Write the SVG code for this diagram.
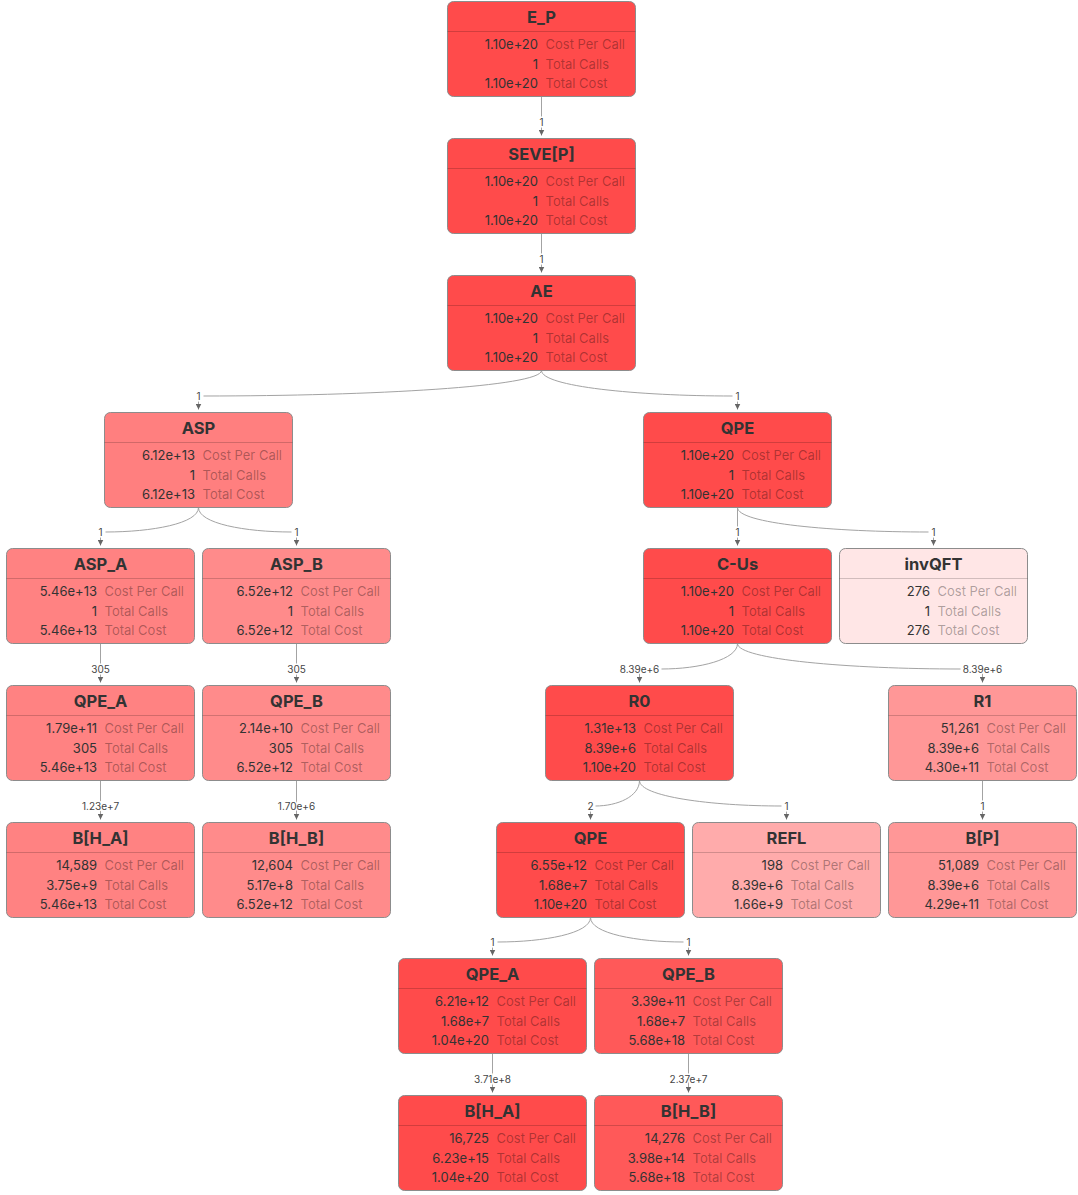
<svg xmlns="http://www.w3.org/2000/svg" width="1078" height="1195" viewBox="0 0 1078 1195">
  <style>
    .node rect{stroke:#8c8c8c;stroke-width:1}
    .node line{stroke:#000;stroke-opacity:.18;stroke-width:1}
    .title{font-family:Inter,"Noto Sans",sans-serif;font-size:16.5px;font-weight:700;fill:#333;text-anchor:middle}
    .v{font-family:Inter,"Noto Sans",sans-serif;font-size:13px;fill:#333;text-anchor:end}
    .k{font-family:Inter,"Noto Sans",sans-serif;font-size:13px;fill:#000;fill-opacity:.32}
    .h0 rect{fill:#ff4b4b}
    .h1 rect{fill:#ff5959}
    .h2 rect{fill:#ff7f7f}
    .h3 rect{fill:#ff8282}
    .h4 rect{fill:#ff8b8b}
    .h5 rect{fill:#ff9797}
    .h6 rect{fill:#ffabab}
    .h7 rect{fill:#ffe6e6}
    .edge{fill:none;stroke:#a3a3a3;stroke-width:1}
    .tip{fill:none;stroke:#a3a3a3;stroke-width:1;marker-end:url(#arrow)}
    .labels{opacity:.99}
    .lbl{font-family:Inter,"Noto Sans",sans-serif;font-size:10px;fill:#444;text-anchor:middle;stroke:#fff;stroke-width:3;paint-order:stroke}
  </style>
  <defs>
    <marker id="arrow" viewBox="0 0 6 6" refX="6" refY="3" markerWidth="6" markerHeight="6" markerUnits="userSpaceOnUse" orient="auto">
      <path d="M0,0 L6,3 L0,6 z" fill="#666"/>
    </marker>
  </defs>

  <!-- connectors -->
  <g id="edges">
    <path class="tip" d="M541.5,96.5 V135.5"/>
    <path class="tip" d="M541.5,233.5 V272.5"/>
    <path class="edge" d="M541.5,370.5 C541.5,386.5 372.5,396 203.5,396"/>
    <path class="tip" d="M198.5,396 V409.5"/>
    <path class="edge" d="M541.5,370.5 C541.5,386.5 637,396 732.5,396"/>
    <path class="tip" d="M737.5,396 V409.5"/>
    <path class="edge" d="M198.5,507.5 C198.5,523.5 152,532 105.5,532"/>
    <path class="tip" d="M100.5,532 V545.5"/>
    <path class="edge" d="M198.5,507.5 C198.5,523.5 245,532 291.5,532"/>
    <path class="tip" d="M296.5,532 V545.5"/>
    <path class="tip" d="M737.5,507.5 V545.5"/>
    <path class="edge" d="M737.5,507.5 C737.5,523.5 833,532 928.5,532"/>
    <path class="tip" d="M933.5,532 V545.5"/>
    <path class="tip" d="M100.5,643.5 V682.5"/>
    <path class="tip" d="M296.5,643.5 V682.5"/>
    <path class="edge" d="M737.5,643.5 C737.5,659.5 699.5,669 661.5,669"/>
    <path class="tip" d="M639.5,669 V682.5"/>
    <path class="edge" d="M737.5,643.5 C737.5,659.5 849,669 960.5,669"/>
    <path class="tip" d="M982.5,669 V682.5"/>
    <path class="tip" d="M100.5,780.5 V819.5"/>
    <path class="tip" d="M296.5,780.5 V819.5"/>
    <path class="edge" d="M639.5,780.5 C639.5,796.5 617.5,806 595.5,806"/>
    <path class="tip" d="M590.5,806 V819.5"/>
    <path class="edge" d="M639.5,780.5 C639.5,796.5 710.5,806 781.5,806"/>
    <path class="tip" d="M786.5,806 V819.5"/>
    <path class="tip" d="M982.5,780.5 V819.5"/>
    <path class="edge" d="M590.5,917.5 C590.5,933.5 544,942 497.5,942"/>
    <path class="tip" d="M492.5,942 V955.5"/>
    <path class="edge" d="M590.5,917.5 C590.5,933.5 637,942 683.5,942"/>
    <path class="tip" d="M688.5,942 V955.5"/>
    <path class="tip" d="M492.5,1053.5 V1092.5"/>
    <path class="tip" d="M688.5,1053.5 V1092.5"/>

    <g class="labels">
      <text class="lbl" x="541.5" y="126">1</text>
      <text class="lbl" x="541.5" y="263">1</text>
      <text class="lbl" x="198.5" y="400">1</text>
      <text class="lbl" x="737.5" y="400">1</text>
      <text class="lbl" x="100.5" y="536">1</text>
      <text class="lbl" x="296.5" y="536">1</text>
      <text class="lbl" x="737.5" y="536">1</text>
      <text class="lbl" x="933.5" y="536">1</text>
      <text class="lbl" x="100.5" y="673">305</text>
      <text class="lbl" x="296.5" y="673">305</text>
      <text class="lbl" x="639.5" y="673">8.39e+6</text>
      <text class="lbl" x="982.5" y="673">8.39e+6</text>
      <text class="lbl" x="100.5" y="810">1.23e+7</text>
      <text class="lbl" x="296.5" y="810">1.70e+6</text>
      <text class="lbl" x="590.5" y="810">2</text>
      <text class="lbl" x="786.5" y="810">1</text>
      <text class="lbl" x="982.5" y="810">1</text>
      <text class="lbl" x="492.5" y="946">1</text>
      <text class="lbl" x="688.5" y="946">1</text>
      <text class="lbl" x="492.5" y="1083">3.71e+8</text>
      <text class="lbl" x="688.5" y="1083">2.37e+7</text>
    </g>
  </g>

  <!-- nodes: box 188x95, title band, three metric rows -->
  <g id="n-ep" class="node h0" transform="translate(447.5,1.5)">
    <rect width="188" height="95" rx="6"/><line x1="0" y1="30" x2="188" y2="30"/>
    <text class="title" x="94" y="21.5">E_P</text>
    <text class="v" x="90.5" y="47">1.10e+20</text><text class="k" x="98" y="47">Cost Per Call</text>
    <text class="v" x="90.5" y="67">1</text><text class="k" x="98" y="67">Total Calls</text>
    <text class="v" x="90.5" y="86.5">1.10e+20</text><text class="k" x="98" y="86.5">Total Cost</text>
  </g>
  <g id="n-seve" class="node h0" transform="translate(447.5,138.5)">
    <rect width="188" height="95" rx="6"/><line x1="0" y1="30" x2="188" y2="30"/>
    <text class="title" x="94" y="21.5">SEVE[P]</text>
    <text class="v" x="90.5" y="47">1.10e+20</text><text class="k" x="98" y="47">Cost Per Call</text>
    <text class="v" x="90.5" y="67">1</text><text class="k" x="98" y="67">Total Calls</text>
    <text class="v" x="90.5" y="86.5">1.10e+20</text><text class="k" x="98" y="86.5">Total Cost</text>
  </g>
  <g id="n-ae" class="node h0" transform="translate(447.5,275.5)">
    <rect width="188" height="95" rx="6"/><line x1="0" y1="30" x2="188" y2="30"/>
    <text class="title" x="94" y="21.5">AE</text>
    <text class="v" x="90.5" y="47">1.10e+20</text><text class="k" x="98" y="47">Cost Per Call</text>
    <text class="v" x="90.5" y="67">1</text><text class="k" x="98" y="67">Total Calls</text>
    <text class="v" x="90.5" y="86.5">1.10e+20</text><text class="k" x="98" y="86.5">Total Cost</text>
  </g>
  <g id="n-asp" class="node h2" transform="translate(104.5,412.5)">
    <rect width="188" height="95" rx="6"/><line x1="0" y1="30" x2="188" y2="30"/>
    <text class="title" x="94" y="21.5">ASP</text>
    <text class="v" x="90.5" y="47">6.12e+13</text><text class="k" x="98" y="47">Cost Per Call</text>
    <text class="v" x="90.5" y="67">1</text><text class="k" x="98" y="67">Total Calls</text>
    <text class="v" x="90.5" y="86.5">6.12e+13</text><text class="k" x="98" y="86.5">Total Cost</text>
  </g>
  <g id="n-qpe" class="node h0" transform="translate(643.5,412.5)">
    <rect width="188" height="95" rx="6"/><line x1="0" y1="30" x2="188" y2="30"/>
    <text class="title" x="94" y="21.5">QPE</text>
    <text class="v" x="90.5" y="47">1.10e+20</text><text class="k" x="98" y="47">Cost Per Call</text>
    <text class="v" x="90.5" y="67">1</text><text class="k" x="98" y="67">Total Calls</text>
    <text class="v" x="90.5" y="86.5">1.10e+20</text><text class="k" x="98" y="86.5">Total Cost</text>
  </g>
  <g id="n-asp-a" class="node h3" transform="translate(6.5,548.5)">
    <rect width="188" height="95" rx="6"/><line x1="0" y1="30" x2="188" y2="30"/>
    <text class="title" x="94" y="21.5">ASP_A</text>
    <text class="v" x="90.5" y="47">5.46e+13</text><text class="k" x="98" y="47">Cost Per Call</text>
    <text class="v" x="90.5" y="67">1</text><text class="k" x="98" y="67">Total Calls</text>
    <text class="v" x="90.5" y="86.5">5.46e+13</text><text class="k" x="98" y="86.5">Total Cost</text>
  </g>
  <g id="n-asp-b" class="node h4" transform="translate(202.5,548.5)">
    <rect width="188" height="95" rx="6"/><line x1="0" y1="30" x2="188" y2="30"/>
    <text class="title" x="94" y="21.5">ASP_B</text>
    <text class="v" x="90.5" y="47">6.52e+12</text><text class="k" x="98" y="47">Cost Per Call</text>
    <text class="v" x="90.5" y="67">1</text><text class="k" x="98" y="67">Total Calls</text>
    <text class="v" x="90.5" y="86.5">6.52e+12</text><text class="k" x="98" y="86.5">Total Cost</text>
  </g>
  <g id="n-cus" class="node h0" transform="translate(643.5,548.5)">
    <rect width="188" height="95" rx="6"/><line x1="0" y1="30" x2="188" y2="30"/>
    <text class="title" x="94" y="21.5">C-Us</text>
    <text class="v" x="90.5" y="47">1.10e+20</text><text class="k" x="98" y="47">Cost Per Call</text>
    <text class="v" x="90.5" y="67">1</text><text class="k" x="98" y="67">Total Calls</text>
    <text class="v" x="90.5" y="86.5">1.10e+20</text><text class="k" x="98" y="86.5">Total Cost</text>
  </g>
  <g id="n-invqft" class="node h7" transform="translate(839.5,548.5)">
    <rect width="188" height="95" rx="6"/><line x1="0" y1="30" x2="188" y2="30"/>
    <text class="title" x="94" y="21.5">invQFT</text>
    <text class="v" x="90.5" y="47">276</text><text class="k" x="98" y="47">Cost Per Call</text>
    <text class="v" x="90.5" y="67">1</text><text class="k" x="98" y="67">Total Calls</text>
    <text class="v" x="90.5" y="86.5">276</text><text class="k" x="98" y="86.5">Total Cost</text>
  </g>
  <g id="n-qpe-a1" class="node h3" transform="translate(6.5,685.5)">
    <rect width="188" height="95" rx="6"/><line x1="0" y1="30" x2="188" y2="30"/>
    <text class="title" x="94" y="21.5">QPE_A</text>
    <text class="v" x="90.5" y="47">1.79e+11</text><text class="k" x="98" y="47">Cost Per Call</text>
    <text class="v" x="90.5" y="67">305</text><text class="k" x="98" y="67">Total Calls</text>
    <text class="v" x="90.5" y="86.5">5.46e+13</text><text class="k" x="98" y="86.5">Total Cost</text>
  </g>
  <g id="n-qpe-b1" class="node h4" transform="translate(202.5,685.5)">
    <rect width="188" height="95" rx="6"/><line x1="0" y1="30" x2="188" y2="30"/>
    <text class="title" x="94" y="21.5">QPE_B</text>
    <text class="v" x="90.5" y="47">2.14e+10</text><text class="k" x="98" y="47">Cost Per Call</text>
    <text class="v" x="90.5" y="67">305</text><text class="k" x="98" y="67">Total Calls</text>
    <text class="v" x="90.5" y="86.5">6.52e+12</text><text class="k" x="98" y="86.5">Total Cost</text>
  </g>
  <g id="n-r0" class="node h0" transform="translate(545.5,685.5)">
    <rect width="188" height="95" rx="6"/><line x1="0" y1="30" x2="188" y2="30"/>
    <text class="title" x="94" y="21.5">R0</text>
    <text class="v" x="90.5" y="47">1.31e+13</text><text class="k" x="98" y="47">Cost Per Call</text>
    <text class="v" x="90.5" y="67">8.39e+6</text><text class="k" x="98" y="67">Total Calls</text>
    <text class="v" x="90.5" y="86.5">1.10e+20</text><text class="k" x="98" y="86.5">Total Cost</text>
  </g>
  <g id="n-r1" class="node h5" transform="translate(888.5,685.5)">
    <rect width="188" height="95" rx="6"/><line x1="0" y1="30" x2="188" y2="30"/>
    <text class="title" x="94" y="21.5">R1</text>
    <text class="v" x="90.5" y="47">51,261</text><text class="k" x="98" y="47">Cost Per Call</text>
    <text class="v" x="90.5" y="67">8.39e+6</text><text class="k" x="98" y="67">Total Calls</text>
    <text class="v" x="90.5" y="86.5">4.30e+11</text><text class="k" x="98" y="86.5">Total Cost</text>
  </g>
  <g id="n-bha1" class="node h3" transform="translate(6.5,822.5)">
    <rect width="188" height="95" rx="6"/><line x1="0" y1="30" x2="188" y2="30"/>
    <text class="title" x="94" y="21.5">B[H_A]</text>
    <text class="v" x="90.5" y="47">14,589</text><text class="k" x="98" y="47">Cost Per Call</text>
    <text class="v" x="90.5" y="67">3.75e+9</text><text class="k" x="98" y="67">Total Calls</text>
    <text class="v" x="90.5" y="86.5">5.46e+13</text><text class="k" x="98" y="86.5">Total Cost</text>
  </g>
  <g id="n-bhb1" class="node h4" transform="translate(202.5,822.5)">
    <rect width="188" height="95" rx="6"/><line x1="0" y1="30" x2="188" y2="30"/>
    <text class="title" x="94" y="21.5">B[H_B]</text>
    <text class="v" x="90.5" y="47">12,604</text><text class="k" x="98" y="47">Cost Per Call</text>
    <text class="v" x="90.5" y="67">5.17e+8</text><text class="k" x="98" y="67">Total Calls</text>
    <text class="v" x="90.5" y="86.5">6.52e+12</text><text class="k" x="98" y="86.5">Total Cost</text>
  </g>
  <g id="n-qpe2" class="node h0" transform="translate(496.5,822.5)">
    <rect width="188" height="95" rx="6"/><line x1="0" y1="30" x2="188" y2="30"/>
    <text class="title" x="94" y="21.5">QPE</text>
    <text class="v" x="90.5" y="47">6.55e+12</text><text class="k" x="98" y="47">Cost Per Call</text>
    <text class="v" x="90.5" y="67">1.68e+7</text><text class="k" x="98" y="67">Total Calls</text>
    <text class="v" x="90.5" y="86.5">1.10e+20</text><text class="k" x="98" y="86.5">Total Cost</text>
  </g>
  <g id="n-refl" class="node h6" transform="translate(692.5,822.5)">
    <rect width="188" height="95" rx="6"/><line x1="0" y1="30" x2="188" y2="30"/>
    <text class="title" x="94" y="21.5">REFL</text>
    <text class="v" x="90.5" y="47">198</text><text class="k" x="98" y="47">Cost Per Call</text>
    <text class="v" x="90.5" y="67">8.39e+6</text><text class="k" x="98" y="67">Total Calls</text>
    <text class="v" x="90.5" y="86.5">1.66e+9</text><text class="k" x="98" y="86.5">Total Cost</text>
  </g>
  <g id="n-bp" class="node h5" transform="translate(888.5,822.5)">
    <rect width="188" height="95" rx="6"/><line x1="0" y1="30" x2="188" y2="30"/>
    <text class="title" x="94" y="21.5">B[P]</text>
    <text class="v" x="90.5" y="47">51,089</text><text class="k" x="98" y="47">Cost Per Call</text>
    <text class="v" x="90.5" y="67">8.39e+6</text><text class="k" x="98" y="67">Total Calls</text>
    <text class="v" x="90.5" y="86.5">4.29e+11</text><text class="k" x="98" y="86.5">Total Cost</text>
  </g>
  <g id="n-qpe-a2" class="node h0" transform="translate(398.5,958.5)">
    <rect width="188" height="95" rx="6"/><line x1="0" y1="30" x2="188" y2="30"/>
    <text class="title" x="94" y="21.5">QPE_A</text>
    <text class="v" x="90.5" y="47">6.21e+12</text><text class="k" x="98" y="47">Cost Per Call</text>
    <text class="v" x="90.5" y="67">1.68e+7</text><text class="k" x="98" y="67">Total Calls</text>
    <text class="v" x="90.5" y="86.5">1.04e+20</text><text class="k" x="98" y="86.5">Total Cost</text>
  </g>
  <g id="n-qpe-b2" class="node h1" transform="translate(594.5,958.5)">
    <rect width="188" height="95" rx="6"/><line x1="0" y1="30" x2="188" y2="30"/>
    <text class="title" x="94" y="21.5">QPE_B</text>
    <text class="v" x="90.5" y="47">3.39e+11</text><text class="k" x="98" y="47">Cost Per Call</text>
    <text class="v" x="90.5" y="67">1.68e+7</text><text class="k" x="98" y="67">Total Calls</text>
    <text class="v" x="90.5" y="86.5">5.68e+18</text><text class="k" x="98" y="86.5">Total Cost</text>
  </g>
  <g id="n-bha2" class="node h0" transform="translate(398.5,1095.5)">
    <rect width="188" height="95" rx="6"/><line x1="0" y1="30" x2="188" y2="30"/>
    <text class="title" x="94" y="21.5">B[H_A]</text>
    <text class="v" x="90.5" y="47">16,725</text><text class="k" x="98" y="47">Cost Per Call</text>
    <text class="v" x="90.5" y="67">6.23e+15</text><text class="k" x="98" y="67">Total Calls</text>
    <text class="v" x="90.5" y="86.5">1.04e+20</text><text class="k" x="98" y="86.5">Total Cost</text>
  </g>
  <g id="n-bhb2" class="node h1" transform="translate(594.5,1095.5)">
    <rect width="188" height="95" rx="6"/><line x1="0" y1="30" x2="188" y2="30"/>
    <text class="title" x="94" y="21.5">B[H_B]</text>
    <text class="v" x="90.5" y="47">14,276</text><text class="k" x="98" y="47">Cost Per Call</text>
    <text class="v" x="90.5" y="67">3.98e+14</text><text class="k" x="98" y="67">Total Calls</text>
    <text class="v" x="90.5" y="86.5">5.68e+18</text><text class="k" x="98" y="86.5">Total Cost</text>
  </g>
</svg>
